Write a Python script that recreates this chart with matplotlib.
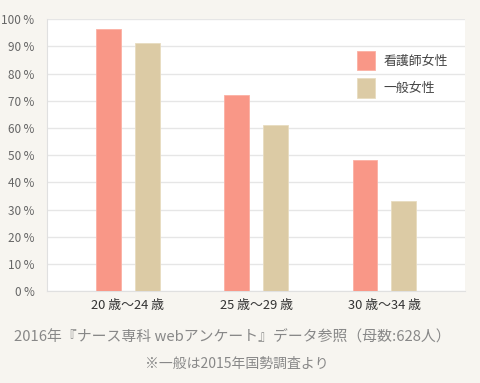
import numpy as np
import matplotlib
matplotlib.use("Agg")
import matplotlib.pyplot as plt

plt.rcParams['font.family'] = ['Noto Sans CJK JP', 'DejaVu Sans']

groups = ["20 歳～24 歳", "25 歳～29 歳", "30 歳～34 歳"]
nurse = [96.3, 72.1, 48.2]
general = [91.3, 61.0, 33.3]
series_names = ["看護師女性", "一般女性"]
yticks = [0, 10, 20, 30, 40, 50, 60, 70, 80, 90, 100]

bg = "#f7f5f0"
c_nurse = "#f99787"
c_general = "#dccba5"

fig = plt.figure(figsize=(4.8, 3.83), dpi=100, facecolor=bg)
ax = fig.add_axes([0.098, 0.240, 0.871, 0.710])
ax.set_facecolor("white")

x = np.arange(len(groups))
w = 0.193
off = 0.151
ax.bar(x - off, nurse, w, color=c_nurse, edgecolor="#fbb0a4", lw=0.6, zorder=3,
       label=series_names[0])
ax.bar(x + off, general, w, color=c_general, edgecolor="#e8dcc0", lw=0.6, zorder=3,
       label=series_names[1])

ax.set_xlim(-0.63, 2.63)
ax.set_ylim(0, 100)
ax.set_yticks(yticks)
ax.set_yticklabels([f"{v}\u2009%" for v in yticks], color="#666666", fontsize=8.5)
ax.set_xticks(x)
ax.set_xticklabels(groups, color="#333333", fontsize=9.3)
ax.tick_params(length=0)
ax.tick_params(axis="y", pad=9)
ax.tick_params(axis="x", pad=6)
ax.grid(True, axis="y", color="#e6e6e6", lw=1, zorder=0)
for s in ["top", "right"]:
    ax.spines[s].set_visible(False)
ax.spines["left"].set_color("#e0e0e0")
ax.spines["bottom"].set_color("#e0e0e0")

fs = 9.3
ax.legend(loc="upper left", bbox_to_anchor=(356.7 / 480, 1 - 51 / 383),
          bbox_transform=fig.transFigure, frameon=False, borderpad=0, borderaxespad=0,
          fontsize=fs, handlelength=1.4, handleheight=1.9, labelspacing=0.64,
          handletextpad=0.7, labelcolor="#444444")

fig.text(0.485, 0.120, "2016年『ナース専科 webアンケート』データ参照（母数:628人）",
         ha="center", va="center", fontsize=10.7, color="#888888")
fig.text(0.493, 0.050, "※一般は2015年国勢調査より",
         ha="center", va="center", fontsize=10, color="#888888")

fig.savefig("out.png", dpi=100, facecolor=bg)
